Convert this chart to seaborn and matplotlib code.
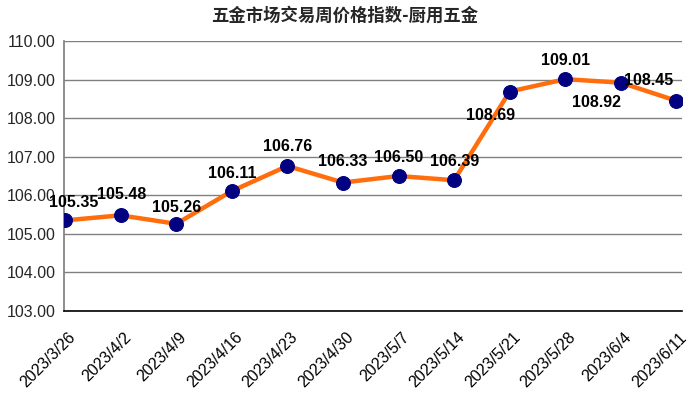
import matplotlib
matplotlib.use("Agg")
import matplotlib.pyplot as plt
import seaborn as sns
import pandas as pd

dates = ["2023/3/26", "2023/4/2", "2023/4/9", "2023/4/16", "2023/4/23", "2023/4/30",
         "2023/5/7", "2023/5/14", "2023/5/21", "2023/5/28", "2023/6/4", "2023/6/11"]
values = [105.35, 105.48, 105.26, 106.11, 106.76, 106.33, 106.50, 106.39, 108.69, 109.01, 108.92, 108.45]
yticks = [103, 104, 105, 106, 107, 108, 109, 110]
title = "五金市场交易周价格指数-厨用五金"

# label offsets in pixels (dx, dy)
offsets = [(9, 18), (1, 21), (0, 16), (0, 18), (0, 19), (0, 21), (0, 19), (0, 19),
           (-19, -24), (0, 19), (-24, -20), (-28, 20)]

sns.set_theme(style="white")
plt.rcParams['font.family'] = ['Liberation Sans', 'Noto Sans CJK SC', 'DejaVu Sans']

df = pd.DataFrame({"x": range(len(dates)), "v": values})

fig = plt.figure(figsize=(6.9, 3.95), dpi=100)
ax = fig.add_axes([64/690, 84/395, (682-64)/690, 270/395])

sns.lineplot(data=df, x="x", y="v", ax=ax, color="#FF6D0C", linewidth=3.2,
             marker="o", markersize=10, markerfacecolor="#000080",
             markeredgecolor="#000080", zorder=3)

for i, v in enumerate(values):
    dx, dy = offsets[i]
    ax.annotate(f"{v:.2f}", (i, v), xytext=(dx, dy), textcoords="offset pixels",
                ha="center", va="center", fontsize=11.5, color="black",
                fontweight="bold", zorder=4)

ax.set_ylim(103, 110)
ax.set_yticks(yticks)
ax.set_yticklabels([f"{t:.2f}" for t in yticks], fontsize=11.5)
ax.set_xlim(-0.02, 11.1)
ax.set_xticks(range(len(dates)))
ax.set_xticklabels([])
for i, d in enumerate(dates):
    ax.annotate(d, (i, 0), xycoords=("data", "axes fraction"), xytext=(8, -24),
                textcoords="offset pixels", rotation=45, ha="right", va="center",
                rotation_mode="anchor", fontsize=11.5, color="black",
                annotation_clip=False)
ax.tick_params(axis="x", length=5, color="black", direction="in", pad=6)
ax.tick_params(axis="y", length=0, pad=6)
ax.yaxis.grid(True, color="#808080", linewidth=1)
ax.set_xlabel("")
ax.set_ylabel("")
for s in ["top", "right"]:
    ax.spines[s].set_visible(False)
ax.spines["left"].set_color("#808080")
ax.spines["bottom"].set_color("black")
ax.spines["bottom"].set_linewidth(1.2)

fig.text(0.5, 1 - 16/395, title, ha="center", va="center", fontsize=12.5,
         fontweight="bold", family=['Noto Sans CJK SC', 'DejaVu Sans'])

fig.savefig("out.png", dpi=100)
